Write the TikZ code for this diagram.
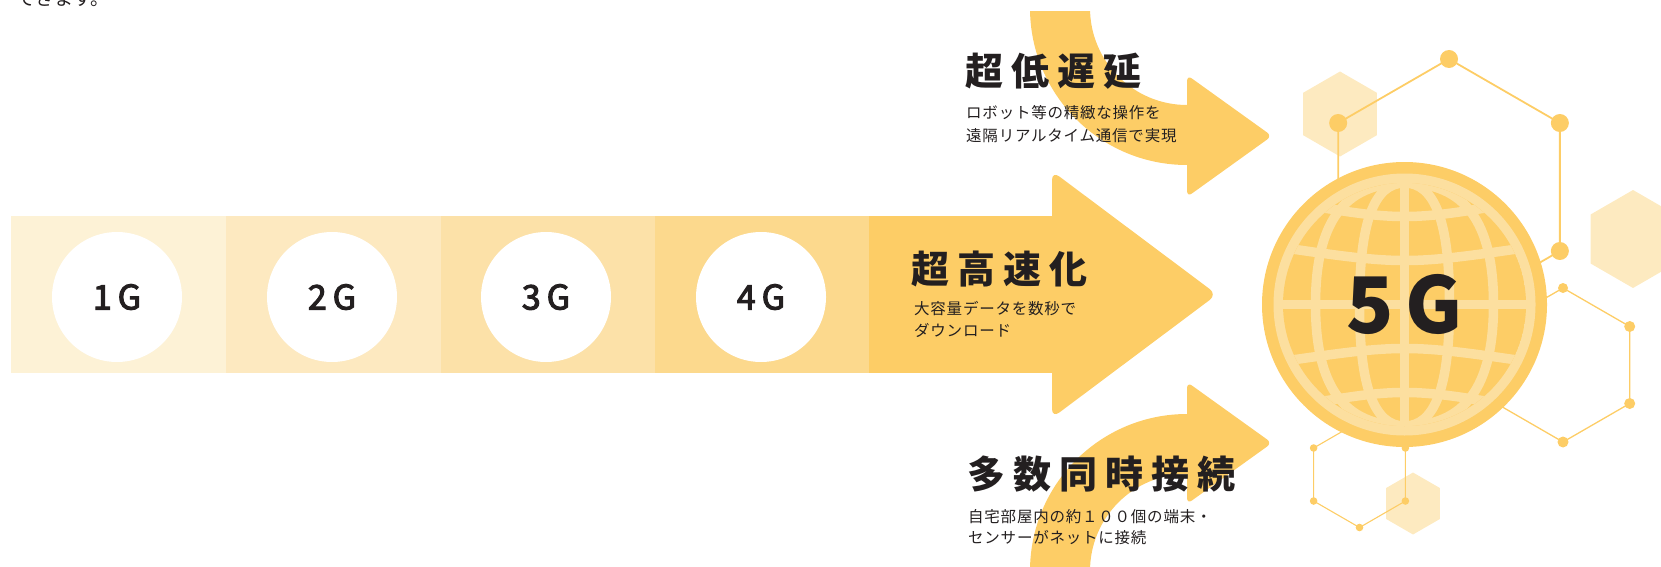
\documentclass[tikz,border=0pt]{standalone}
\usepackage{fontspec}
\setmainfont{Noto Sans CJK JP}
\newfontfamily\headfont{Noto Sans CJK JP}[LetterSpace=21]
\newfontfamily\subfont{Noto Sans CJK JP}[LetterSpace=5]
\newfontfamily\genfont{Noto Sans CJK JP}[FakeBold=3]

\definecolor{amber}{HTML}{FDCD66}
\definecolor{segA}{HTML}{FDF2D6}
\definecolor{segB}{HTML}{FDE9C0}
\definecolor{segC}{HTML}{FCE1A8}
\definecolor{segD}{HTML}{FCD98D}
\definecolor{paleamber}{HTML}{FDEAC0}
\definecolor{globelight}{HTML}{FCDF9F}
\definecolor{ink}{HTML}{231F20}

% filled hexagon, pointy top: centre x, centre y, radius
\newcommand{\palehex}[3]{%
  \fill[paleamber] (#1,#2) +(-90:#3) -- +(-30:#3) -- +(30:#3) -- +(90:#3)
    -- +(150:#3) -- +(210:#3) -- cycle;}
% named hexagon corners: prefix, centre x, centre y, radius
\newcommand{\hexcorners}[4]{%
  \foreach \k/\a in {1/-90,2/-30,3/30,4/90,5/150,6/210}
    {\path (#2,#3) ++(\a:#4) coordinate (#1\k);}}

\begin{document}
\begin{tikzpicture}[x=1pt,y=-1pt,
  gen/.style={font=\genfont\fontsize{34}{34}\selectfont, text=ink, inner sep=0pt, anchor=base},
  gendisc/.style={circle, fill=white, minimum size=130pt, inner sep=0pt},
  headline/.style={font=\headfont\bfseries\fontsize{38}{40}\selectfont, text=ink, inner sep=0pt, anchor=base west},
  subline/.style={font=\subfont\fontsize{15.5}{18}\selectfont, text=ink, inner sep=0pt, anchor=base west},
  gridline/.style={draw=globelight, line width=9.5pt},
  bigmesh/.style={draw=amber, line width=1.8pt},
  midmesh/.style={draw=amber, line width=1.3pt},
  smallmesh/.style={draw=amber, line width=1.1pt}]
\useasboundingbox (0,0) rectangle (1661,567);
\clip (0,0) rectangle (1661,567);

% closing words of the preceding paragraph
\node[font=\fontsize{19}{19}\selectfont, text=ink, anchor=base west, inner sep=0pt] (prevline) at (16,6) {できます。};

% generation band
\fill[segA] (11,216) rectangle (226,373);
\fill[segB] (226,216) rectangle (441,373);
\fill[segC] (441,216) rectangle (655,373);
\fill[segD] (655,216) rectangle (869,373);
\node[gendisc] (d1) at (117,297) {};
\node[gendisc] (d2) at (332,297) {};
\node[gendisc] (d3) at (546,297) {};
\node[gendisc] (d4) at (761,297) {};
\node[gen] (t1) at (117,309.5) {1\kern6pt G};
\node[gen] (t2) at (332,309.5) {2\kern6pt G};
\node[gen] (t3) at (546,309.5) {3\kern6pt G};
\node[gen] (t4) at (761,309.5) {4\kern6pt G};

% main arrow
\fill[amber] (869,216) rectangle (1080,373);
\fill[amber, rounded corners=9pt] (1052,171) -- (1217,294.5) -- (1052,418) -- cycle;

% curved arrows above and below
\begin{scope}
  \clip (0,11.5) rectangle (1661,567);
  \fill[amber] (1030,8) arc[start angle=180, end angle=90, radius=157]
    -- (1196,165) -- (1196,105) -- (1187,105)
    arc[start angle=90, end angle=180, radius=97] -- cycle;
  \fill[amber] (1030,571) arc[start angle=180, end angle=270, radius=157]
    -- (1196,414) -- (1196,474) -- (1187,474)
    arc[start angle=270, end angle=180, radius=97] -- cycle;
\end{scope}
\fill[amber, rounded corners=6pt] (1187,75) -- (1272,136) -- (1187,197) -- cycle;
\fill[amber, rounded corners=6pt] (1187,382) -- (1272,443) -- (1187,504) -- cycle;

% captions
\node[headline] (h1) at (965,85.5) {超低遅延};
\node[subline] (s1a) at (966,118) {ロボット等の精緻な操作を};
\node[subline] (s1b) at (966,141) {遠隔リアルタイム通信で実現};
\node[headline] (h2) at (911,283) {超高速化};
\node[subline] (s2a) at (914,314) {大容量データを数秒で};
\node[subline] (s2b) at (914,336) {ダウンロード};
\node[headline] (h3) at (967,488.5) {多数同時接続};
\node[subline] (s3a) at (968,522) {自宅部屋内の約１００個の端末・};
\node[subline] (s3b) at (968,543.5) {センサーがネットに接続};

% pale hexagons
\palehex{1340}{114}{42.5}
\palehex{1633}{239}{49}
\palehex{1413}{503.5}{31}

% network mesh
\hexcorners{A}{1449}{187}{128}
\hexcorners{B}{1563}{365}{77}
\hexcorners{C}{1359.5}{474.5}{53}
\draw[bigmesh] (A1) -- (A2) -- (A3) -- (A4) -- (A5) -- (A6) -- cycle;
\draw[midmesh] (B1) -- (B2) -- (B3) -- (B4) -- (B5) -- (B6) -- cycle;
\draw[smallmesh] (C1) -- (C2) -- (C3) -- (C4) -- (C5) -- (C6) -- cycle;
\foreach \v in {A1,A2,A3,A6} \fill[amber] (\v) circle[radius=9];
\fill[amber] (B1) circle[radius=5];
\foreach \v in {B2,B3,B4} \fill[amber] (\v) circle[radius=5.5];
\foreach \v in {C2,C3,C4,C5,C6} \fill[amber] (\v) circle[radius=3.8];

% globe
\coordinate (G) at (1404.5,304.5);
\fill[amber] (G) circle[radius=142.5];
\fill[globelight] (G) circle[radius=131];
\begin{scope}[shift={(1404.5,304.5)}]
  \clip (0,0) circle[radius=121.5];
  \fill[amber] (0,0) circle[radius=122];
  % meridians
  \draw[gridline] (0,-125) -- (0,125);
  \foreach \a in {45,89}{
    \draw[gridline] (0,-121.5) .. controls ({-0.68*\a},-121.5) and (-\a,-82) .. (-\a,0)
      .. controls (-\a,82) and ({-0.68*\a},121.5) .. (0,121.5);
    \draw[gridline] (0,-121.5) .. controls ({0.68*\a},-121.5) and (\a,-82) .. (\a,0)
      .. controls (\a,82) and ({0.68*\a},121.5) .. (0,121.5);
  }
  % parallels
  \draw[gridline] (-130,0) -- (130,0);
  \draw[gridline] (-130,-58) .. controls (0,-39.3) .. (130,-58);
  \draw[gridline] (-130,58) .. controls (0,39.3) .. (130,58);
  \draw[gridline] (-130,-105) .. controls (0,-82.3) .. (130,-105);
  \draw[gridline] (-130,105) .. controls (0,82.3) .. (130,105);
\end{scope}
\node[font=\bfseries\fontsize{78}{78}\selectfont, text=ink, inner sep=0pt, anchor=base] (five) at (1404.5,333.5) {5\kern12pt G};
\end{tikzpicture}
\end{document}
